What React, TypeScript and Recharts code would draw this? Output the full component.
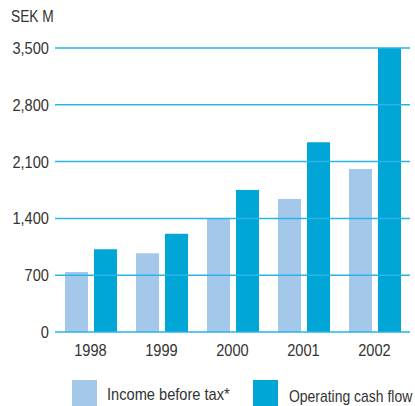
import { BarChart, Bar, XAxis, YAxis, ReferenceLine } from 'recharts'

const years = ['1998', '1999', '2000', '2001', '2002']
const incomeBeforeTax = [740, 970, 1400, 1640, 2010]
const operatingCashFlow = [1020, 1210, 1750, 2340, 3500]
const yTicks = [0, 700, 1400, 2100, 2800, 3500]

const LIGHT = '#a3c8ea'
const DARK = '#00a6d6'
const GRID = '#29b3e8'
const TEXT = '#333'
const FONT = '"Liberation Sans", Arial, sans-serif'
const SQUEEZE = 0.86

const data = years.map((year, i) => ({
  year,
  income: incomeBeforeTax[i],
  cash: operatingCashFlow[i],
}))

const fmt = (v: number) => v.toLocaleString('en-US')

// narrow text, like the condensed face of the original
function NarrowTick({ x, y, payload, anchor, dy, format }: any) {
  const label = format ? format(payload.value) : payload.value
  return (
    <text
      x={x}
      y={y}
      dy={dy}
      textAnchor={anchor}
      fill={TEXT}
      fontSize={17}
      fontFamily={FONT}
      transform={`translate(${x} ${y}) scale(${SQUEEZE} 1) translate(${-x} ${-y})`}
    >
      {label}
    </text>
  )
}

const narrow = (s = SQUEEZE) => ({ transform: `scaleX(${s})`, transformOrigin: 'left top' })

export default function App() {
  return (
    <div style={{ position: 'relative', width: 415, height: 406, fontFamily: FONT, overflow: 'hidden' }}>
      <style>{`body{margin:0}`}</style>
      <div style={{ position: 'absolute', left: 11, top: 8, fontSize: 16, color: TEXT, whiteSpace: 'nowrap', ...narrow() }}>
        SEK M
      </div>
      <BarChart
        width={415}
        height={406}
        data={data}
        margin={{ top: 48, right: 5, bottom: 44, left: 0 }}
        barSize={23}
        barGap={6}
      >
        <XAxis
          dataKey="year"
          height={30}
          axisLine={false}
          tickLine={false}
          tickMargin={6}
          tick={<NarrowTick anchor="middle" dy="0.71em" />}
        />
        <YAxis
          width={55}
          domain={[0, 3500]}
          ticks={yTicks}
          axisLine={false}
          tickLine={false}
          tickMargin={0}
          tick={<NarrowTick anchor="end" dy="0.355em" format={fmt} />}
        />
        <Bar dataKey="income" fill={LIGHT} isAnimationActive={false} />
        <Bar dataKey="cash" fill={DARK} isAnimationActive={false} />
        {yTicks.map((t) => (
          <ReferenceLine key={t} y={t} stroke={GRID} strokeWidth={1.5} />
        ))}
      </BarChart>
      <div style={{ position: 'absolute', left: 72, top: 380, width: 25, height: 26, background: LIGHT }} />
      <div style={{ position: 'absolute', left: 107, top: 385, fontSize: 17, color: TEXT, whiteSpace: 'nowrap', ...narrow() }}>
        Income before tax*
      </div>
      <div style={{ position: 'absolute', left: 253, top: 380, width: 25, height: 26, background: DARK }} />
      <div style={{ position: 'absolute', left: 289, top: 387, fontSize: 17, color: TEXT, whiteSpace: 'nowrap', ...narrow(0.82) }}>
        Operating cash flow
      </div>
    </div>
  )
}
